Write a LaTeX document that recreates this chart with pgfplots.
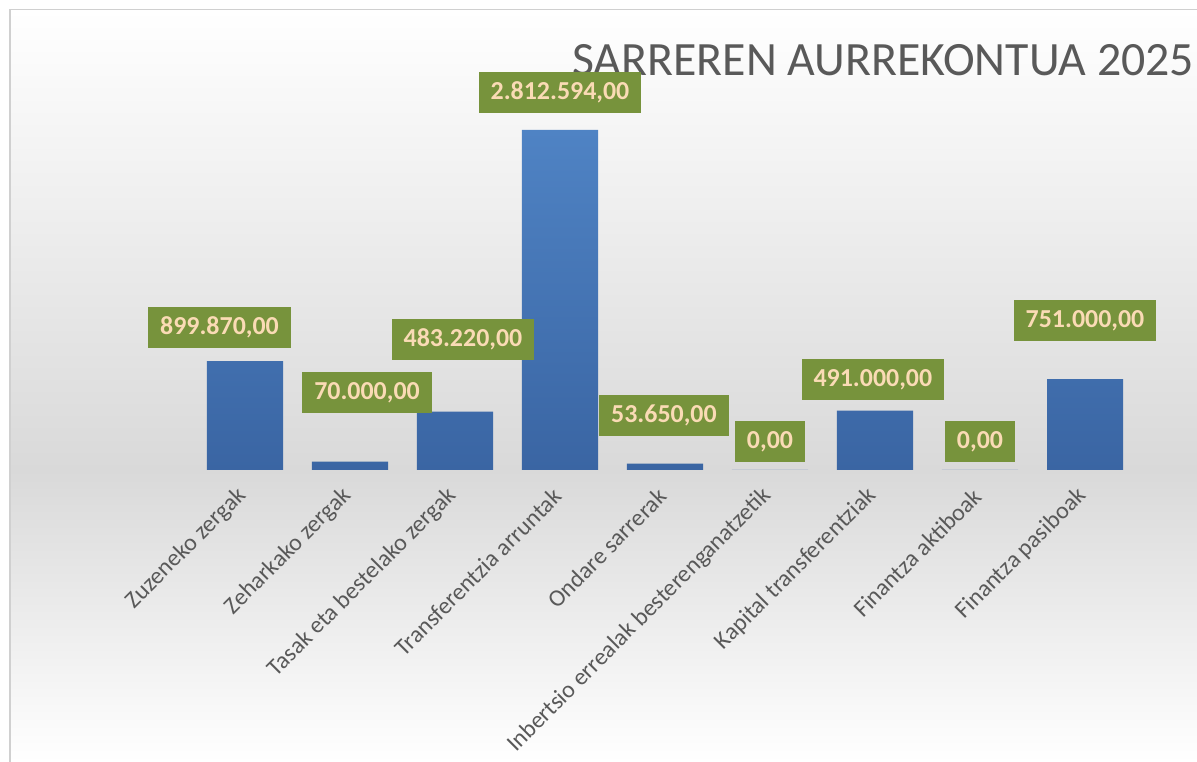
\documentclass[border=0pt]{standalone}
\usepackage{pgfplots}
\pgfplotsset{compat=1.18}
\usepackage{fontspec}
\setmainfont{Carlito}
\definecolor{bgGray}{HTML}{D9D9D9}
\definecolor{frameGray}{HTML}{D0D0D0}
\definecolor{barTop}{HTML}{4F83C4}
\definecolor{barBot}{HTML}{3A65A3}
\definecolor{lblGreen}{HTML}{77933C}
\definecolor{lblText}{HTML}{FADBB5}
\definecolor{txtGray}{HTML}{595959}
\begin{document}
\begin{tikzpicture}[x=1bp,y=1bp]
\path[use as bounding box] (0,0) rectangle (1197,762);
\shade[top color=white, bottom color=bgGray] (9,291.5) rectangle (1197,753);
\shade[top color=bgGray, bottom color=white] (9,0) rectangle (1197,292.5);
\draw[frameGray, line width=1.5bp] (9.75,-2) -- (9.75,752.25) -- (1200,752.25);
\node[anchor=base west, text=txtGray, font=\fontsize{48}{48}\selectfont, inner sep=0pt] at (572,686) {SARREREN AURREKONTUA 2025};
\begin{axis}[
  at={(192.5bp,292bp)}, anchor=south west,
  scale only axis, width=945bp, height=362.7bp,
  xmin=-0.5, xmax=8.5, ymin=0, ymax=3000000,
  enlargelimits=false, clip=false,
  axis line style={draw=none},
  ytick=\empty,
  xtick={0,...,8},
  xticklabels={Zuzeneko zergak, Zeharkako zergak, Tasak eta bestelako zergak, Transferentzia arruntak, Ondare sarrerak, Inbertsio errealak besterenganatzetik, Kapital transferentziak, Finantza aktiboak, Finantza pasiboak},
  major tick length=0pt,
  xticklabel shift=20bp,
  xticklabel style={rotate=45, anchor=east, font=\fontsize{24}{24}\selectfont, text=txtGray},
]
\addplot[ybar, bar width=0.724, draw=none, top color=barTop, bottom color=barBot] coordinates {
(0,899870) (1,70000) (2,483220) (3,2812594) (4,53650) (5,0) (6,491000) (7,0) (8,751000)};
\addplot[draw=none, mark=none, nodes near coords, point meta=explicit symbolic,
  nodes near coords style={anchor=center, fill=lblGreen, text=lblText, font=\bfseries\fontsize{26}{26}\selectfont, minimum height=41bp, inner xsep=12bp}]
  table[meta=lab, row sep=\\] {
x y lab \\
-0.243 1178700 899.870,00 \\
1.162 641000 70.000,00 \\
2.076 1079400 483.220,00 \\
3.0 3122400 2.812.594,00 \\
3.99 450800 53.650,00 \\
5.0 235700 0,00 \\
5.98 744400 491.000,00 \\
7.0 235700 0,00 \\
8.0 1236600 751.000,00 \\
};
\end{axis}
\end{tikzpicture}
\end{document}
